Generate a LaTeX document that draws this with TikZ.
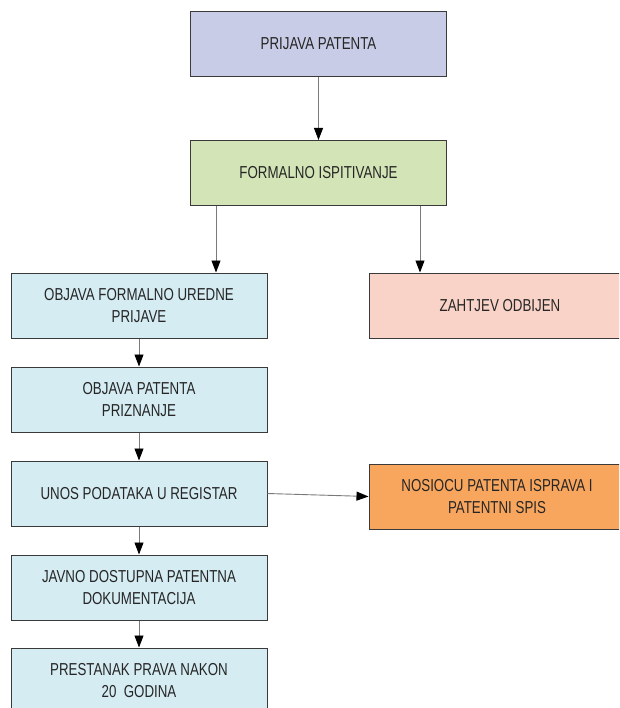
\documentclass[tikz,border=0pt]{standalone}
\usepackage{fontspec}
\setmainfont{Liberation Sans}[FakeStretch=0.77]
\usetikzlibrary{arrows.meta}

\definecolor{boxline}{HTML}{3A3A3A}
\definecolor{txtgray}{HTML}{262626}
\definecolor{prijavafill}{HTML}{C8CCE6}
\definecolor{ispitfill}{HTML}{D3E4B6}
\definecolor{tokfill}{HTML}{D4ECF2}
\definecolor{odbijfill}{HTML}{F9D3C8}
\definecolor{ispravafill}{HTML}{F8A65E}
\definecolor{arrgray}{HTML}{7A7A7A}

\tikzset{
	korak/.style={draw=boxline, line width=1pt, minimum width=256pt, minimum height=65pt,
		align=center, text=txtgray, font=\fontsize{17.3}{22}\selectfont, inner sep=0pt},
	tok/.style={korak, fill=tokfill},
	strelica/.style={draw=arrgray, line width=0.9pt, -{Triangle[length=12pt,width=9pt,color=black]}}
}

\begin{document}
\begin{tikzpicture}[x=1pt,y=1pt]
	\useasboundingbox (0,0) rectangle (619,-708);
	\clip (0,0) rectangle (619,-708);
	%glavni tok
	\node[korak, fill=prijavafill] (prijava) at (318.5,-44) {PRIJAVA PATENTA};
	\node[korak, fill=ispitfill] (formalno) at (318.5,-173) {FORMALNO ISPITIVANJE};
	\node[tok] (objava) at (139,-305.5) {OBJAVA FORMALNO UREDNE\\PRIJAVE};
	\node[tok] (priznanje) at (139,-399.5) {OBJAVA PATENTA\\PRIZNANJE};
	\node[tok] (unos) at (139,-493.5) {UNOS PODATAKA U REGISTAR};
	\node[tok] (javno) at (139,-587.5) {JAVNO DOSTUPNA PATENTNA\\DOKUMENTACIJA};
	\node[tok] (prestanak) at (139,-680.5) {PRESTANAK PRAVA NAKON\\20~~GODINA};
	%sporedne grane
	\node[korak, fill=odbijfill, minimum width=262pt] (odbijen) at (500,-305.5) {ZAHTJEV ODBIJEN};
	\node[korak, fill=ispravafill] (nosiocu) at (497,-496.5) {NOSIOCU PATENTA ISPRAVA I\\PATENTNI SPIS};

	%STRELICE
	\draw[strelica] (prijava) -- (formalno);
	\coordinate (lijevo) at ([xshift=26pt]formalno.south west);
	\coordinate (desno) at ([xshift=-27pt]formalno.south east);
	\draw[strelica] (lijevo) -- (lijevo |- objava.north);
	\draw[strelica] (desno) -- (desno |- odbijen.north);
	\draw[strelica] (objava) -- (priznanje);
	\draw[strelica] (priznanje) -- (unos);
	\draw[strelica] (unos.east) -- (nosiocu.west);
	\draw[strelica] (unos) -- (javno);
	\draw[strelica] (javno) -- (prestanak);
\end{tikzpicture}
\end{document}
